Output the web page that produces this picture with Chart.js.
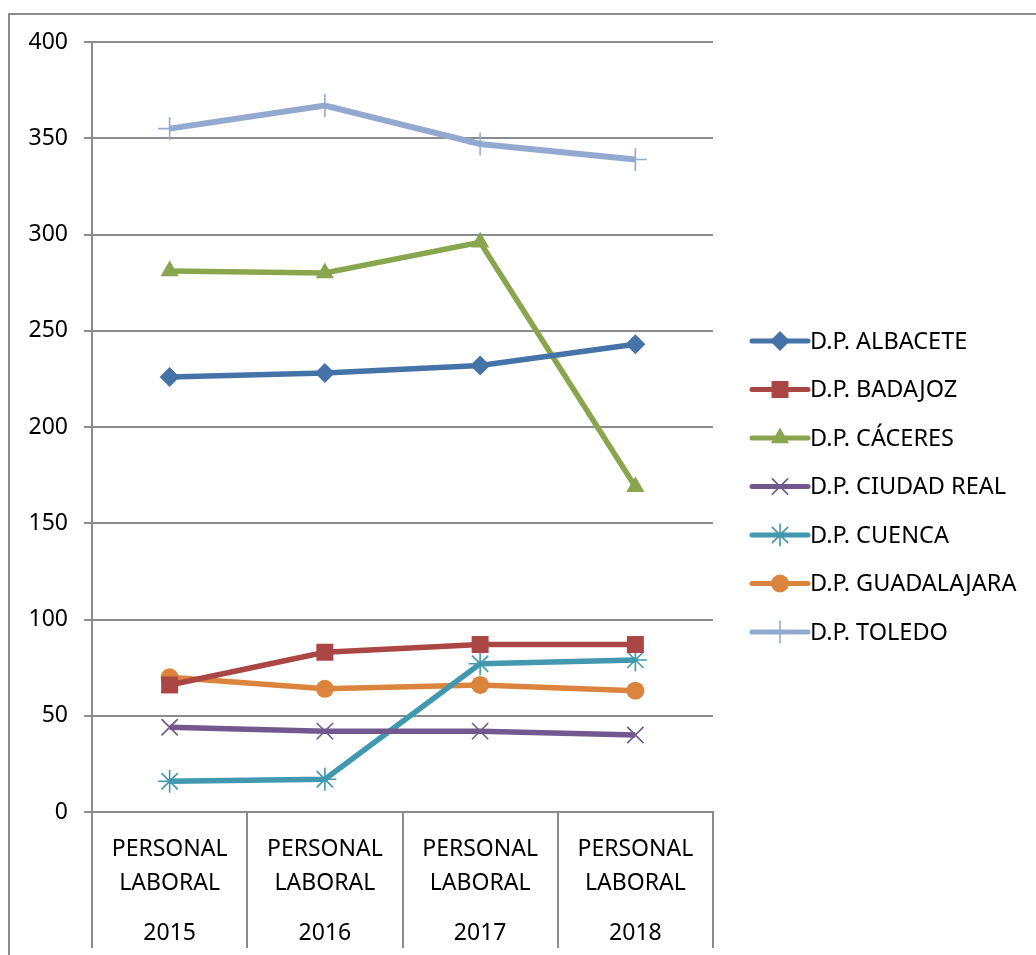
<!DOCTYPE html>
<html>
<head>
<meta charset="utf-8">
<script src="https://cdn.jsdelivr.net/npm/chart.js@4"></script>
<style>
    html, body { margin: 0; padding: 0; background: #fff; }
    #wrap { position: relative; width: 1036px; height: 955px; overflow: hidden; }
    #frame { position: absolute; left: 8px; top: 13px; width: 1100px; height: 1000px;
             border-left: 2px solid #8c8c8c; border-top: 2px solid #8c8c8c; }
    canvas { position: absolute; left: 0; top: 0; }
</style>
</head>
<body>
<div id="wrap">
    <div id="frame"></div>
    <canvas id="chart" width="1036" height="955"></canvas>
</div>
<script>
// Categories / tick labels
const categoryLines = ['PERSONAL', 'LABORAL'];
const years = ['2015', '2016', '2017', '2018'];

// Series values
const albacete    = [226, 228, 232, 243];
const badajoz     = [66, 83, 87, 87];
const caceres     = [281, 280, 296, 169];
const ciudadReal  = [44, 42, 42, 40];
const cuenca      = [16, 17, 77, 79];
const guadalajara = [70, 64, 66, 63];
const toledo      = [355, 367, 347, 339];

const FONT = '"Noto Sans", "Liberation Sans", sans-serif';
const GRID = '#8c8c8c';

function series(label, data, color, pointStyle, radius, width) {
    return {
        label, data,
        borderColor: color,
        backgroundColor: color,
        pointBackgroundColor: color,
        pointBorderColor: color,
        pointStyle,
        pointRadius: radius,
        pointHoverRadius: radius,
        pointBorderWidth: (pointStyle === 'cross' || pointStyle === 'crossRot' || pointStyle === 'star') ? 1.6 : 0,
        borderWidth: width,
        tension: 0
    };
}

const datasets = [
    series('D.P. ALBACETE', albacete, '#4572A7', 'rectRot', 10, 5.5),
    series('D.P. BADAJOZ', badajoz, '#AA4643', 'rect', 12, 5.5),
    series('D.P. CÁCERES', caceres, '#89A54E', 'triangle', 10.5, 5.5),
    series('D.P. CIUDAD REAL', ciudadReal, '#71588F', 'crossRot', 11.5, 5.5),
    series('D.P. CUENCA', cuenca, '#4198AF', 'star', 11.5, 5.5),
    series('D.P. GUADALAJARA', guadalajara, '#DB843D', 'circle', 9, 5.5),
    series('D.P. TOLEDO', toledo, '#93A9CF', 'cross', 11.5, 6)
];

// Vertical dividers under the plot, between categories
const dividerPlugin = {
    id: 'dividers',
    afterDraw(chart) {
        const x = chart.scales.x;
        const ctx = chart.ctx;
        const top = chart.chartArea.bottom;
        ctx.save();
        ctx.strokeStyle = GRID;
        ctx.lineWidth = 2;
        for (let i = 0; i <= years.length; i++) {
            const px = Math.round(x.getPixelForValue(i - 0.5));
            ctx.beginPath();
            ctx.moveTo(px, top);
            ctx.lineTo(px, top + 136);
            ctx.stroke();
        }
        ctx.restore();
    }
};

// Legend: short line with the marker in the middle, like the source
const legendPlugin = {
    id: 'sideLegend',
    afterDraw(chart) {
        const ctx = chart.ctx;
        const x0 = 752, x1 = 808, yStart = 341, step = 48.5;
        ctx.save();
        chart.data.datasets.forEach((ds, i) => {
            const y = yStart + i * step;
            ctx.strokeStyle = ds.borderColor;
            ctx.lineWidth = 5;
            ctx.lineCap = 'round';
            ctx.beginPath();
            ctx.moveTo(x0, y);
            ctx.lineTo(x1, y);
            ctx.stroke();
            ctx.lineCap = 'butt';
            ctx.fillStyle = ds.pointBackgroundColor;
            ctx.strokeStyle = ds.pointBorderColor;
            ctx.lineWidth = ds.pointBorderWidth || 0.01;
            Chart.helpers.drawPoint(ctx, {
                pointStyle: ds.pointStyle,
                radius: ds.pointRadius,
                rotation: 0,
                borderWidth: ds.pointBorderWidth
            }, (x0 + x1) / 2, y);
            ctx.fillStyle = '#000';
            ctx.font = '23.5px ' + FONT;
            ctx.textBaseline = 'middle';
            ctx.textAlign = 'left';
            ctx.fillText(ds.label, x1 + 2, y + 1);
        });
        ctx.restore();
    }
};

new Chart(document.getElementById('chart').getContext('2d'), {
    type: 'line',
    data: { labels: years, datasets },
    options: {
        responsive: false,
        animation: false,
        layout: { padding: { left: 0, top: 42, right: 323, bottom: 0 } },
        plugins: { legend: { display: false }, tooltip: { enabled: false } },
        scales: {
            x: {
                type: 'category',
                offset: true,
                weight: 0,
                grid: { display: false },
                border: { display: true, color: GRID, width: 2 },
                ticks: {
                    callback: () => categoryLines,
                    color: '#000',
                    font: { family: FONT, size: 23, lineHeight: 1.48 },
                    padding: 12,
                    maxRotation: 0,
                    autoSkip: false
                },
                afterFit(scale) { scale.height = 100; }
            },
            x2: {
                type: 'category',
                labels: years,
                offset: true,
                position: 'bottom',
                weight: 1,
                grid: { display: false },
                border: { display: false },
                ticks: {
                    color: '#000',
                    font: { family: FONT, size: 23, lineHeight: 1.2 },
                    padding: 0,
                    maxRotation: 0,
                    autoSkip: false
                },
                afterFit(scale) { scale.height = 43; }
            },
            y: {
                min: 0,
                max: 400,
                ticks: {
                    stepSize: 50,
                    color: '#000',
                    font: { family: FONT, size: 23 },
                    padding: 16
                },
                grid: { color: GRID, lineWidth: 2, tickLength: 8 },
                border: { display: true, color: GRID, width: 2 },
                afterFit(scale) { scale.width = 92; }
            }
        }
    },
    plugins: [dividerPlugin, legendPlugin]
});
</script>
</body>
</html>
